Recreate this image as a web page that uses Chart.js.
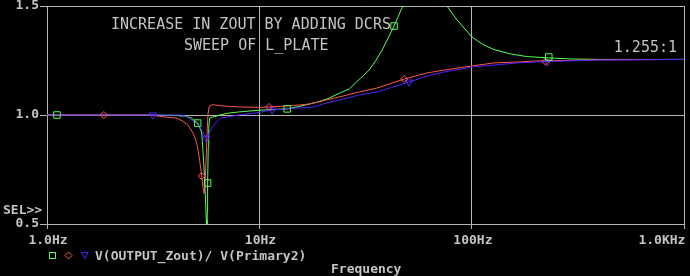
<!DOCTYPE html>
<html><head><meta charset="utf-8">
<script src="https://cdn.jsdelivr.net/npm/chart.js@4.4.1/dist/chart.umd.min.js"></script>
<style>html,body{margin:0;padding:0;background:#000;overflow:hidden}canvas{display:block}</style>
</head><body>
<canvas id="c" width="690" height="276"></canvas>
<script>
// ---- axes ----
const xTicks = [1, 10, 100, 1000];
const xTickLabels = ['1.0Hz', '10Hz', '100Hz', '1.0KHz'];
const yTicks = [0.5, 1.0, 1.5];
const yTickLabels = ['0.5', '1.0', '1.5'];

// ---- traces (frequency Hz, ratio) ----
const greenFreq = [1, 2, 3, 4, 4.5, 4.8, 5.12, 5.34, 5.40, 5.52, 5.62, 5.66, 5.68, 5.70, 5.74, 5.77, 5.83, 6.02, 6.3, 6.5, 7.2, 8, 10, 12, 13.5, 15.5, 18.5, 21, 23.8, 26.5, 30, 32.8, 35.4, 37.8, 43.0, 46.4, 47.4, 52, 60, 68, 76.3, 85.1, 100, 108, 114, 127, 152, 181, 230, 295, 400, 1000];
const greenVal  = [1.0, 1.0, 1.0, 0.998, 0.994, 0.985, 0.963, 0.922, 0.862, 0.711, 0.52, 0.45, 0.55, 0.688, 0.85, 0.94, 0.986, 0.991, 0.995, 1.0, 1.009, 1.014, 1.022, 1.026, 1.028, 1.04, 1.058, 1.075, 1.1, 1.12, 1.17, 1.206, 1.252, 1.298, 1.408, 1.482, 1.5, 1.7, 1.85, 1.65, 1.5, 1.436, 1.358, 1.335, 1.321, 1.30, 1.28, 1.268, 1.262, 1.257, 1.255, 1.255];

const redFreq = [1, 3, 3.28, 3.66, 4.1, 4.35, 4.6, 4.85, 5.0, 5.12, 5.23, 5.34, 5.42, 5.48, 5.54, 5.60, 5.66, 5.72, 5.80, 5.95, 6.2, 6.49, 7.23, 8.06, 10, 11.1, 13.1, 15.4, 17.2, 20.6, 23.8, 29.5, 35.8, 48, 61.5, 73.9, 100, 127, 163, 202, 279, 400, 1000];
const redVal  = [1.0, 1.0, 0.996, 0.99, 0.985, 0.972, 0.955, 0.92, 0.89, 0.849, 0.79, 0.725, 0.67, 0.64, 0.68, 0.78, 0.9, 1.0, 1.04, 1.047, 1.046, 1.043, 1.039, 1.037, 1.035, 1.037, 1.041, 1.046, 1.05, 1.069, 1.083, 1.106, 1.124, 1.165, 1.193, 1.206, 1.225, 1.239, 1.243, 1.248, 1.25, 1.253, 1.255];

const blueFreq = [1, 3, 4.3, 4.6, 4.95, 5.2, 5.4, 5.58, 5.75, 5.95, 6.28, 6.55, 7.1, 8, 9.5, 11.5, 14.3, 18.1, 20.6, 23.8, 29.5, 35.8, 50.6, 61.5, 73.9, 100, 127, 163, 202, 279, 400, 1000];
const blueVal  = [1.0, 1.0, 1.0, 0.99, 0.968, 0.95, 0.925, 0.894, 0.91, 0.94, 0.968, 0.986, 0.991, 1.0, 1.009, 1.023, 1.03, 1.037, 1.055, 1.069, 1.092, 1.106, 1.151, 1.179, 1.197, 1.22, 1.229, 1.239, 1.243, 1.248, 1.252, 1.255];

// ---- trace markers ----
const greenMarkFreq = [1.114, 5.12, 5.70, 13.5, 43.0, 230];
const greenMarkVal  = [1.0, 0.963, 0.688, 1.028, 1.408, 1.266];
const redMarkFreq = [1.85, 5.34, 11.1, 48, 222];
const redMarkVal  = [1.0, 0.72, 1.037, 1.165, 1.245];
const blueMarkFreq = [3.15, 5.62, 11.5, 50.6, 227];
const blueMarkVal  = [1.0, 0.894, 1.023, 1.151, 1.243];

// ---- texts ----
const titleLines = ['INCREASE IN ZOUT BY ADDING DCRS', 'SWEEP OF L_PLATE'];
const cursorLabel = '1.255:1';
const traceLabel = 'V(OUTPUT_Zout)/ V(Primary2)';
const xAxisTitle = 'Frequency';
const selLabel = 'SEL>>';

const GREEN = '#55ff55', RED = '#ff5555', BLUE = '#5022ff';
const GRID = '#b4b4b4', TXT = '#c4c4c4';
const MONO = '"DejaVu Sans Mono", monospace';

const pts = (f, v) => f.map((x, i) => ({x: x, y: v[i]}));
const lineDs = (f, v, col, ord) => ({data: pts(f, v), borderColor: col, borderWidth: 1, pointRadius: 0, tension: 0, fill: false, order: ord});
const markDs = (f, v, col, style, r, rot) => ({data: pts(f, v), showLine: false, borderColor: col, backgroundColor: 'rgba(0,0,0,0)', pointBorderWidth: 1, pointStyle: style, pointRadius: r, pointRotation: rot, order: 0});

const overlay = {
  id: 'overlay',
  afterDraw(chart) {
    const c = chart.ctx, xs = chart.scales.x;
    c.save();
    c.fillStyle = TXT;
    c.textBaseline = 'alphabetic';
    // x tick labels
    c.font = 'bold 13px ' + MONO;
    xTicks.forEach((v, i) => {
      const px = xs.getPixelForValue(v);
      const last = i === xTicks.length - 1;
      c.textAlign = last ? 'right' : 'center';
      c.fillText(xTickLabels[i], last ? px + 1 : px + 1, 244);
    });
    c.textAlign = 'left';
    c.fillText(selLabel, 3, 214);
    c.fillText(traceLabel, 95, 260);
    c.fillText(xAxisTitle, 331, 273);
    // titles
    c.font = '15px ' + MONO;
    c.fillText(titleLines[0], 111, 29);
    c.fillText(titleLines[1], 184, 50);
    c.textAlign = 'right';
    c.fillText(cursorLabel, 677, 52);
    // legend symbols
    c.lineWidth = 1;
    c.strokeStyle = GREEN;
    c.strokeRect(49.5, 252.5, 6, 6);
    c.strokeStyle = RED;
    c.beginPath(); c.moveTo(68.5, 252); c.lineTo(72, 255.5); c.lineTo(68.5, 259); c.lineTo(65, 255.5); c.closePath(); c.stroke();
    c.strokeStyle = BLUE;
    c.beginPath(); c.moveTo(81.5, 252.5); c.lineTo(88, 252.5); c.lineTo(84.75, 258.5); c.closePath(); c.stroke();
    c.restore();
  }
};

new Chart(document.getElementById('c').getContext('2d'), {
  type: 'line',
  data: {
    datasets: [
      markDs(greenMarkFreq, greenMarkVal, GREEN, 'rect', 4.6, 0),
      markDs(redMarkFreq, redMarkVal, RED, 'rectRot', 3.5, 0),
      markDs(blueMarkFreq, blueMarkVal, BLUE, 'triangle', 4.2, 180),
      lineDs(blueFreq, blueVal, BLUE, 1),
      lineDs(redFreq, redVal, RED, 2),
      lineDs(greenFreq, greenVal, GREEN, 3)
    ]
  },
  options: {
    responsive: false,
    animation: false,
    events: [],
    layout: {padding: {top: 6, right: 4, left: 0, bottom: 0}},
    plugins: {legend: {display: false}, tooltip: {enabled: false}},
    scales: {
      x: {
        type: 'logarithmic', min: 1, max: 1000,
        afterBuildTicks: s => { s.ticks = xTicks.map(v => ({value: v})); },
        afterFit: s => { s.height = 52; s.paddingLeft = 0; s.paddingRight = 0; },
        ticks: {color: 'rgba(0,0,0,0)', autoSkip: false, maxRotation: 0, minRotation: 0,
                font: {family: MONO, size: 13, weight: 'bold'}, callback: (v, i) => xTickLabels[i]},
        grid: {color: GRID, lineWidth: 1, drawTicks: true, tickLength: 5, tickColor: GRID},
        border: {display: true, color: GRID}
      },
      y: {
        type: 'linear', min: 0.5, max: 1.5,
        afterBuildTicks: s => { s.ticks = yTicks.map(v => ({value: v})); },
        afterFit: s => { s.width = 47; s.paddingTop = 0; s.paddingBottom = 0; },
        ticks: {color: TXT, padding: 1, font: {family: MONO, size: 13, weight: 'bold'}, callback: (v, i) => yTickLabels[i]},
        grid: {color: GRID, lineWidth: 1, drawTicks: true, tickLength: 7, tickColor: GRID},
        border: {display: true, color: GRID}
      }
    }
  },
  plugins: [overlay]
});
</script>
</body></html>
